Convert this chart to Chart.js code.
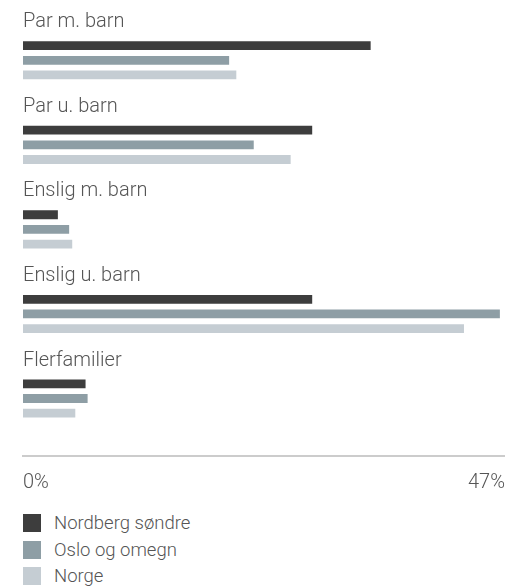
<!DOCTYPE html>
<html><head><meta charset="utf-8">
<script src="https://cdn.jsdelivr.net/npm/chart.js@4.4.0/dist/chart.umd.min.js"></script>
<style>
html,body{margin:0;padding:0;background:#fff;}
#wrap{position:relative;width:505px;height:588px;overflow:hidden;}
#chartBox{position:absolute;left:0;top:0;width:505px;height:510px;}
#legend{position:absolute;left:23px;top:509.5px;font-family:Roboto,sans-serif;font-weight:300;font-size:18.5px;color:#555;}
.item{display:flex;align-items:center;height:26.7px;}
.sw{width:18px;height:18px;margin-right:13px;flex:none;}
</style></head><body>
<div id="wrap"><div id="chartBox"><canvas id="c"></canvas></div><div id="legend"></div></div>
<script>
const categories = ['Par m. barn', 'Par u. barn', 'Enslig m. barn', 'Enslig u. barn', 'Flerfamilier'];
const seriesNames = ['Nordberg søndre', 'Oslo og omegn', 'Norge'];
const nordberg = [33.9, 28.2, 3.4, 28.2, 6.1];
const oslo = [20.1, 22.5, 4.5, 46.5, 6.3];
const norge = [20.8, 26.1, 4.8, 43.0, 5.1];
const xTicks = [0, 47];
const colors = ['#3d3d3d', '#8e9ea5', '#c5cdd3'];

const FONT = {family: 'Roboto, sans-serif', weight: 300, size: 20};
const TEXT = '#555555';

const seriesValues = [nordberg, oslo, norge];
const datasets = seriesNames.map((name, k) => ({
  label: name,
  data: seriesValues[k].map((v, i) => ({x: v, y: i})),
  backgroundColor: colors[k],
  borderWidth: 0,
  categoryPercentage: 0.52,
  barPercentage: 0.6
}));

const chart = new Chart(document.getElementById('c'), {
  type: 'bar',
  data: {datasets},
  options: {
    indexAxis: 'y',
    responsive: true,
    maintainAspectRatio: false,
    animation: false,
    layout: {padding: {left: 23, right: 0, top: 18, bottom: 0}},
    plugins: {legend: {display: false}, tooltip: {enabled: false}},
    scales: {
      x: {
        type: 'linear', min: 0, max: 47,
        afterBuildTicks: s => { s.ticks = xTicks.map(v => ({value: v})); },
        afterFit: s => { s.paddingLeft = 0; s.paddingRight = 0; },
        grid: {display: false, drawTicks: false},
        border: {display: true, color: '#cccccc', width: 2},
        ticks: {align: 'inner', padding: 15, color: TEXT, font: FONT, maxRotation: 0,
          callback: v => v + '%'}
      },
      y: {
        type: 'linear', reverse: true, min: -0.5, max: 4.68, offset: false,
        afterBuildTicks: s => { s.ticks = categories.map((c, i) => ({value: i})); },
        afterFit: s => { s.paddingTop = 0; s.paddingBottom = 0; },
        grid: {display: false, drawTicks: false, offset: false},
        border: {display: false},
        ticks: {mirror: true, padding: 0, labelOffset: -38, color: TEXT, font: FONT,
          callback: v => categories[v]}
      }
    }
  }
});

const legend = document.getElementById('legend');
chart.data.datasets.forEach(ds => {
  const row = document.createElement('div');
  row.className = 'item';
  const sw = document.createElement('span');
  sw.className = 'sw';
  sw.style.background = ds.backgroundColor;
  const t = document.createElement('span');
  t.textContent = ds.label;
  row.appendChild(sw); row.appendChild(t);
  legend.appendChild(row);
});
</script>
</body></html>
